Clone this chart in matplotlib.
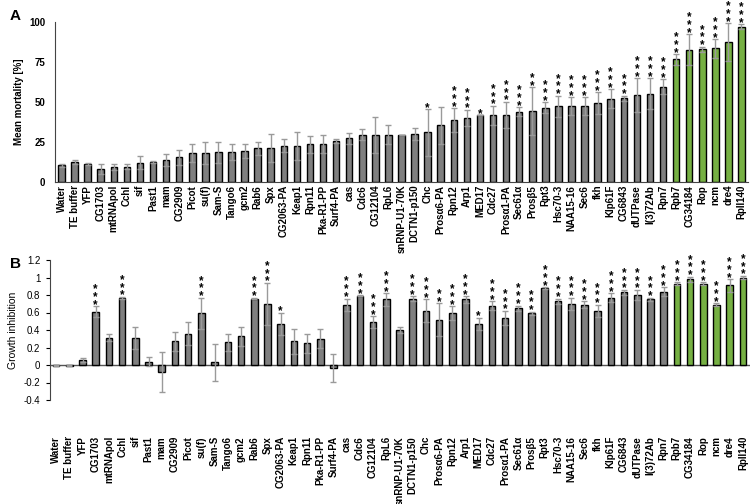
import numpy as np
from matplotlib import pyplot as plt

plt.rcParams['font.family'] = ['Liberation Sans', 'DejaVu Sans']

genes = ["Water", "TE buffer", "YFP", "CG1703", "mtRNApol", "Cchl", "sif", "Past1", "mam",
         "CG2909", "Picot", "su(f)", "Sam-S", "Tango6", "gcm2", "Rab6", "Spx", "CG2063-PA",
         "Keap1", "Rpn11", "Pka-R1-PP", "Surf4-PA", "cas", "Cdc6", "CG12104", "RpL6",
         "snRNP-U1-70K", "DCTN1-p150", "Chc", "Prosα6-PA", "Rpn12", "Arp1", "MED17", "Cdc27",
         "Prosα1-PA", "Sec61α", "Prosβ5", "Rpt3", "Hsc70-3", "NAA15-16", "Sec6", "fkh",
         "Klp61F", "CG6843", "dUTPase", "l(3)72Ab", "Rpn7", "Rpb7", "CG34184", "Rop", "ncm",
         "dre4", "RpII140"]

# panel A: mean mortality [%]
mortality = [10.5, 12.5, 11.5, 8.1, 9.2, 9.6, 12.1, 12.5, 13.7, 15.5, 17.9, 18.0, 18.5, 18.5,
             19.2, 21.0, 21.0, 22.7, 22.7, 23.5, 24.0, 25.4, 27.3, 29.6, 29.6, 29.6, 29.6, 30.0,
             31.0, 35.4, 38.5, 40.2, 41.7, 41.7, 41.9, 44.0, 44.4, 46.5, 47.3, 47.3, 47.3, 49.4,
             52.1, 52.3, 54.4, 55.2, 59.6, 76.7, 82.7, 82.9, 83.5, 87.5, 97.1]
mortality_err = [1.0, 1.0, 0.6, 3.0, 2.0, 1.5, 4.0, 0.5, 3.7, 4.6, 5.7, 7.0, 6.5, 5.0, 4.5,
                 4.0, 8.8, 4.2, 8.8, 5.2, 5.6, 1.3, 3.5, 3.3, 11.2, 5.8, 0.0, 3.5, 14.6, 11.5,
                 7.5, 5.0, 0.0, 6.0, 8.3, 3.0, 14.8, 3.3, 6.7, 5.6, 5.6, 6.6, 6.0, 1.7, 10.4,
                 9.6, 4.8, 3.3, 9.6, 1.7, 5.7, 12.0, 1.7]
mortality_stars = [0] * 28 + [1, 0, 3, 3, 1, 3, 3, 3, 2] + [3] * 16
green = ["Rpb7", "CG34184", "Rop", "ncm", "dre4", "RpII140"]

# panel B: growth inhibition
growth = [-0.01, -0.01, 0.06, 0.61, 0.31, 0.77, 0.31, 0.04, -0.08, 0.27, 0.36, 0.59, 0.03,
          0.26, 0.33, 0.76, 0.70, 0.47, 0.27, 0.25, 0.30, -0.03, 0.69, 0.79, 0.49, 0.75,
          0.40, 0.76, 0.62, 0.52, 0.59, 0.75, 0.47, 0.68, 0.54, 0.65, 0.59, 0.88, 0.73, 0.70,
          0.69, 0.62, 0.77, 0.83, 0.80, 0.75, 0.84, 0.93, 0.98, 0.93, 0.69, 0.91, 1.0]
growth_err = [0.005, 0.005, 0.02, 0.06, 0.04, 0.01, 0.13, 0.05, 0.23, 0.11, 0.13, 0.18, 0.21,
              0.10, 0.11, 0.01, 0.24, 0.13, 0.14, 0.11, 0.11, 0.16, 0.07, 0.005, 0.07, 0.07,
              0.03, 0.03, 0.13, 0.19, 0.08, 0.04, 0.07, 0.05, 0.08, 0.03, 0.02, 0.01, 0.03,
              0.07, 0.04, 0.07, 0.05, 0.03, 0.06, 0.02, 0.05, 0.015, 0.03, 0.02, 0.02, 0.07,
              0.02]
growth_stars = [0, 0, 0, 3, 0, 3, 0, 0, 0, 0, 0, 3, 0, 0, 0, 3, 3, 1, 0, 0, 0, 0, 3, 3, 3, 3,
                0, 3, 3, 2, 3, 3, 1, 3] + [3] * 19

x = np.arange(len(genes))
colors = ['#76b043' if g in green else '#7f7f7f' for g in genes]


def draw_panel(ax, vals, errs, stars):
    ax.bar(x, vals, width=0.5, color=colors, edgecolor='black', linewidth=1, zorder=2)
    ax.errorbar(x, vals, yerr=errs, fmt='none', ecolor='#9a9a9a', elinewidth=1,
                capsize=2, capthick=1, zorder=3)
    for i, n in enumerate(stars):
        if n:
            top = max(vals[i], 0) + errs[i]
            ax.annotate('\n'.join(['*'] * n), (x[i], top), xytext=(0, -3.5),
                        textcoords='offset points', ha='center', va='bottom', fontsize=8.5,
                        fontweight='bold', linespacing=0.54, annotation_clip=False)
    ax.set_xlim(-0.5, len(genes) - 0.5)
    ax.set_xticks(x)
    ax.set_xticklabels(genes, rotation=90, fontsize=7, fontweight='bold')
    for s in ['top', 'right']:
        ax.spines[s].set_visible(False)


fig = plt.figure(figsize=(7.5, 5.04), dpi=100)

axA = fig.add_axes([55 / 750, 1 - 182 / 504, 693 / 750, 160 / 504])
draw_panel(axA, mortality, mortality_err, mortality_stars)
axA.set_ylim(0, 100)
axA.set_yticks([0, 25, 50, 75, 100])
axA.tick_params(axis='y', labelsize=7, length=0, pad=7)
for t in axA.get_yticklabels():
    t.set_fontweight('bold')
axA.tick_params(axis='x', length=0, pad=2)
axA.spines['left'].set_color('#444444')
axA.spines['bottom'].set_color('#444444')
axA.set_ylabel("Mean mortality [%]", fontsize=7, fontweight='bold')
axA.yaxis.set_label_coords(-0.045, 0.5)
fig.text(10 / 750, 1 - 16 / 504, "A", fontsize=11, fontweight='bold', va='center')

axB = fig.add_axes([49.5 / 750, 1 - 400 / 504, 700 / 750, 140 / 504])
draw_panel(axB, growth, growth_err, growth_stars)
axB.set_ylim(-0.4, 1.2)
btick = [-0.4, -0.2, 0, 0.2, 0.4, 0.6, 0.8, 1, 1.2]
axB.set_yticks(btick)
axB.set_yticklabels(['-0.4', '-0.2', '0', '0.2', '0.4', '0.6', '0.8', '1', '1.2'])
axB.tick_params(axis='y', labelsize=7, length=3)
axB.tick_params(axis='x', length=0, pad=26)
axB.spines['bottom'].set_visible(False)
axB.spines['left'].set_color('#444444')
axB.axhline(0, color='#555555', linewidth=1, zorder=1)
axB.set_ylabel("Growth inhibition", fontsize=7.5)
axB.yaxis.set_label_coords(-0.045, 0.5)
fig.text(10 / 750, 1 - 264 / 504, "B", fontsize=11, fontweight='bold', va='center')

fig.savefig("out.png", dpi=100)
